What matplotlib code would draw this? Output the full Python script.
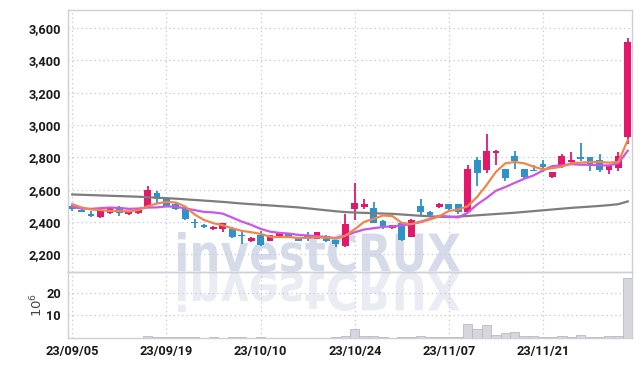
import numpy as np
import matplotlib
matplotlib.use("Agg")
import matplotlib.pyplot as plt
from matplotlib.textpath import TextPath
from matplotlib.patches import PathPatch
from matplotlib.font_manager import FontProperties
from matplotlib.transforms import Affine2D, IdentityTransform
from matplotlib.ticker import FuncFormatter

# daily OHLC (KRW), 60 sessions from 23/09/05
opens  = [2500, 2475, 2450, 2431, 2456, 2487, 2448, 2456, 2487, 2576,
          2540, 2514, 2477, 2402, 2382, 2355, 2355, 2359, 2316, 2280,
          2322, 2284, 2310, 2328, 2300, 2312, 2296, 2311, 2286, 2250,
          2483, 2494, 2485, 2405, 2364, 2392, 2307, 2497, 2460, 2490,
          2510, 2510, 2460, 2783, 2721, 2825, 2725, 2808, 2725, 2722,
          2758, 2676, 2750, 2771, 2800, 2800, 2783, 2721, 2735, 2924]
highs  = [2510, 2488, 2466, 2475, 2492, 2497, 2468, 2485, 2622, 2593,
          2546, 2524, 2487, 2419, 2390, 2375, 2396, 2368, 2345, 2308,
          2345, 2320, 2338, 2332, 2304, 2338, 2340, 2316, 2290, 2450,
          2642, 2545, 2525, 2410, 2384, 2395, 2418, 2540, 2470, 2516,
          2514, 2514, 2750, 2800, 2945, 2845, 2728, 2841, 2728, 2752,
          2783, 2711, 2822, 2831, 2887, 2804, 2820, 2748, 2833, 3536]
lows   = [2470, 2460, 2430, 2425, 2452, 2437, 2440, 2452, 2485, 2518,
          2495, 2473, 2413, 2365, 2360, 2350, 2340, 2303, 2264, 2276,
          2253, 2280, 2306, 2300, 2280, 2284, 2292, 2278, 2246, 2245,
          2412, 2478, 2392, 2358, 2357, 2285, 2305, 2437, 2433, 2486,
          2474, 2448, 2456, 2622, 2700, 2752, 2652, 2725, 2672, 2715,
          2712, 2672, 2733, 2765, 2780, 2717, 2711, 2697, 2717, 2883]
closes = [2482, 2463, 2438, 2473, 2487, 2458, 2465, 2483, 2597, 2540,
          2500, 2483, 2419, 2392, 2366, 2369, 2394, 2307, 2310, 2303,
          2258, 2316, 2335, 2308, 2284, 2296, 2336, 2284, 2262, 2390,
          2516, 2512, 2395, 2375, 2378, 2288, 2415, 2463, 2442, 2512,
          2480, 2462, 2727, 2704, 2839, 2841, 2670, 2780, 2676, 2718,
          2738, 2709, 2808, 2783, 2792, 2750, 2722, 2746, 2808, 3516]

# volume, millions of shares
volume = [0.2, 0.2, 0.2, 0.2, 0.2, 0.2, 0.2, 0.2, 1.0, 0.5,
          0.5, 0.5, 0.5, 0.5, 0.2, 0.5, 0.2, 0.5, 0.5, 0.2,
          0.5, 0.2, 0.2, 0.2, 0.2, 0.2, 0.2, 0.2, 0.5, 1.0,
          4.2, 1.0, 1.0, 0.5, 0.2, 0.5, 0.5, 1.0, 0.5, 0.5,
          0.5, 0.5, 6.2, 3.8, 5.6, 1.5, 2.3, 2.7, 1.0, 1.0,
          0.5, 0.5, 1.0, 0.5, 1.5, 0.5, 0.5, 1.0, 1.0, 26.5]

# moving averages as drawn
ma_short = [2510, 2489, 2477, 2473, 2468, 2468, 2465, 2473, 2497, 2514,
            2524, 2520, 2495, 2446, 2412, 2392, 2379, 2360, 2345, 2336,
            2326, 2309, 2306, 2307, 2300, 2302, 2304, 2303, 2297, 2314,
            2355, 2400, 2419, 2440, 2436, 2394, 2386, 2398, 2415, 2435,
            2468, 2477, 2497, 2555, 2628, 2710, 2763, 2771, 2763, 2742,
            2725, 2733, 2742, 2763, 2767, 2771, 2771, 2767, 2771, 2907]
ma_mid   = [2493, 2483, 2481, 2485, 2489, 2487, 2481, 2483, 2489, 2490,
            2496, 2494, 2484, 2473, 2462, 2459, 2451, 2427, 2402, 2382,
            2357, 2340, 2332, 2328, 2320, 2316, 2311, 2307, 2299, 2316,
            2336, 2353, 2361, 2369, 2373, 2378, 2386, 2402, 2419, 2438,
            2433, 2428, 2457, 2508, 2548, 2593, 2616, 2642, 2667, 2688,
            2719, 2746, 2750, 2758, 2754, 2754, 2750, 2750, 2763, 2841]
ma_long  = [2570, 2568, 2566, 2564, 2562, 2560, 2558, 2556, 2553, 2550,
            2547, 2544, 2540, 2536, 2532, 2528, 2524, 2519, 2514, 2510,
            2506, 2502, 2498, 2494, 2490, 2484, 2478, 2472, 2466, 2461,
            2458, 2456, 2454, 2452, 2450, 2446, 2442, 2438, 2435, 2432,
            2431, 2433, 2437, 2441, 2445, 2449, 2453, 2457, 2462, 2467,
            2472, 2477, 2482, 2487, 2491, 2495, 2499, 2504, 2510, 2527]

tick_pos    = [0, 10, 20, 30, 40, 50]
tick_labels = ["23/09/05", "23/09/19", "23/10/10", "23/10/24", "23/11/07", "23/11/21"]

UP, DOWN = "#e3186b", "#2e93c8"
GRID = "#c3c7da"
SPINE = "#cdcfd9"
LABEL_FONT = dict(family=["Roboto", "DejaVu Sans"], weight="bold", size=9.2)

W, H = 642, 366
fig = plt.figure(figsize=(W / 100, H / 100), dpi=100, facecolor="white")
ax = fig.add_axes([68 / W, 1 - 272 / H, 564 / W, 262 / H], facecolor="none")
axv = fig.add_axes([68 / W, 1 - 338 / H, 564 / W, 66 / H], facecolor="none", sharex=ax)

# watermark and its reflection, behind the axes
fp = FontProperties(family="DejaVu Sans", weight="bold")
tp = TextPath((0, 0), "investCRUX", size=50, prop=fp)
bb = tp.get_extents()
sx, sy = (460 - 178) / bb.width, (272 - 232) / bb.height
base = Affine2D().translate(-bb.x0, -bb.y0)
wm = PathPatch(tp, transform=base + Affine2D().scale(sx, sy).translate(178, H - 272) + IdentityTransform(),
               facecolor="#d6dbea", edgecolor="none", zorder=-1)
wm_r = PathPatch(tp, transform=base + Affine2D().scale(sx, -sy).translate(178, H - 272) + IdentityTransform(),
                 facecolor="#eaecf3", edgecolor="none", zorder=-1)
fig.add_artist(wm)
fig.add_artist(wm_r)

x = np.arange(len(opens))
o, h, l, c = map(np.asarray, (opens, highs, lows, closes))
cols = np.where(c >= o, UP, DOWN)

ax.vlines(x, l, h, colors=cols, lw=1.3, zorder=3)
body = np.maximum(np.abs(c - o), 4)
ax.bar(x, body, bottom=np.minimum(o, c), width=0.72, color=cols, zorder=4)

ax.plot(x, ma_long, color="#7d7d7d", lw=1.6, zorder=5)
ax.plot(x, ma_mid, color="#cc55ea", lw=1.6, zorder=5)
ax.plot(x, ma_short, color="#f0874a", lw=1.6, zorder=5)

ax.set_xlim(-0.45, 59.45)
ax.set_ylim(2090, 3712)
ax.set_yticks(range(2200, 3601, 200))
ax.yaxis.set_major_formatter(FuncFormatter(lambda v, p: f"{int(v):,}"))
ax.tick_params(length=0, labelbottom=False, pad=5, labelcolor="#1a1a1a")
for t in ax.get_yticklabels():
    t.set(**LABEL_FONT)
ax.grid(True, ls=(0, (1, 2.5)), color=GRID, lw=0.9)
ax.set_axisbelow(True)

axv.bar(x, volume, width=1.0, color="#d6d6de", edgecolor="#b9b9c3", lw=0.6, zorder=3)
axv.set_ylim(0, 29.3)
axv.set_yticks([10, 20])
axv.set_xticks(tick_pos)
axv.set_xticklabels(tick_labels)
axv.tick_params(length=0, pad=5, labelcolor="#1a1a1a")
for t in axv.get_yticklabels() + axv.get_xticklabels():
    t.set(**LABEL_FONT)
axv.grid(True, ls=(0, (1, 2.5)), color=GRID, lw=0.9)
axv.set_axisbelow(True)
axv.set_ylabel(r"$10^6$", fontsize=9.5, color="#444444")
axv.yaxis.set_label_coords(-0.04, 0.5)

for a in (ax, axv):
    for s in a.spines.values():
        s.set_color(SPINE)
        s.set_linewidth(1.0)

fig.savefig("out.png", dpi=100, facecolor="white")
